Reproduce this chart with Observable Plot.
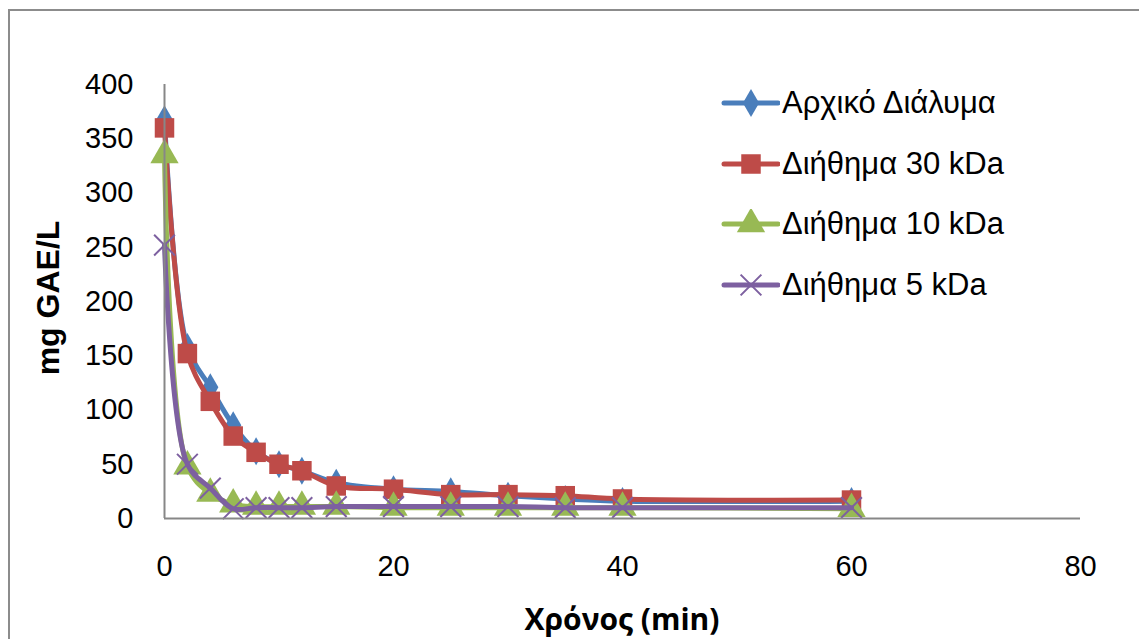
<!DOCTYPE html>
<html>
<head>
<meta charset="utf-8">
<script src="https://cdn.jsdelivr.net/npm/d3@7"></script>
<script src="https://cdn.jsdelivr.net/npm/@observablehq/plot@0.6"></script>
<style>
  html, body { margin: 0; padding: 0; background: #fff; width: 1139px; height: 639px; overflow: hidden; }
  #wrap { position: relative; width: 1139px; height: 639px; }
  #frame { position: absolute; left: 8px; top: 9px; width: 1200px; height: 700px; border: 2px solid #8c8c8c; box-sizing: border-box; }
  #chart { position: absolute; left: 0; top: 0; }
  .title { position: absolute; font-family: "Liberation Sans", Arial, sans-serif; font-weight: bold; color: #000; white-space: nowrap; line-height: 1; }
  #ytitle { left: 48px; top: 298px; font-size: 32px; transform: translate(-50%, -50%) rotate(-90deg); }
  #xtitle { left: 622px; top: 619px; font-size: 30px; font-family: "Open Sans", sans-serif; transform: translate(-50%, -50%); }
  #legend { position: absolute; left: 720px; top: 73px; font-family: "Liberation Sans", Arial, sans-serif; font-size: 31px; color: #000; }
  .item { display: flex; align-items: center; height: 60.5px; }
  .item svg { margin-right: 2px; }
</style>
</head>
<body>
<div id="wrap">
  <div id="frame"></div>
  <div id="chart"></div>
  <div id="ytitle" class="title">mg GAE/L</div>
  <div id="xtitle" class="title">Χρόνος (min)</div>
  <div id="legend"></div>
</div>
<script>
const times = [0, 2, 4, 6, 8, 10, 12, 15, 20, 25, 30, 35, 40, 60];
const seriesNames = ["Αρχικό Διάλυμα", "Διήθημα 30 kDa", "Διήθημα 10 kDa", "Διήθημα 5 kDa"];
const initialSolution = [368, 158, 121, 86, 62, 50, 44, 33, 27, 25, 21, 18, 16, 16];
const filtrate30 = [360, 152, 108, 76, 61, 50, 44, 30, 27, 22, 22, 21, 18, 17];
const filtrate10 = [335, 48, 23, 13, 11, 11, 11, 11, 10, 10, 10, 10, 10, 9];
const filtrate5 = [252, 50, 28, 9, 10, 10, 10, 11, 11, 11, 11, 10, 10, 10];
const xTicks = [0, 20, 40, 60, 80];
const yTicks = [0, 50, 100, 150, 200, 250, 300, 350, 400];

const colors = ["#4A7EBB", "#BE4B48", "#98B954", "#7D60A0"];
const symbols = ["diamond", "square", "triangle", "times"];
const radii = [8.5, 11, 10.5, 9.5];

const allValues = [initialSolution, filtrate30, filtrate10, filtrate5];
const data = [];
allValues.forEach((vals, s) => vals.forEach((v, i) => data.push({series: seriesNames[s], t: times[i], v})));

const marks = [];
seriesNames.forEach((name, s) => {
  const d = data.filter(r => r.series === name);
  marks.push(Plot.line(d, {x: "t", y: "v", stroke: colors[s], strokeWidth: 5, curve: "catmull-rom"}));
  if (symbols[s] === "times") {
    marks.push(Plot.dot(d, {x: "t", y: "v", symbol: "times", r: radii[s], stroke: colors[s], strokeWidth: 2}));
  } else {
    marks.push(Plot.dot(d, {x: "t", y: "v", symbol: symbols[s], r: radii[s], fill: colors[s], stroke: "none"}));
  }
});

const plot = Plot.plot({
  width: 1139,
  height: 639,
  marginLeft: 164,
  marginRight: 59,
  marginTop: 84,
  marginBottom: 121,
  style: {fontFamily: "'Liberation Sans', Arial, sans-serif", fontSize: "29px", color: "#000", background: "transparent"},
  x: {domain: [0, 80], ticks: xTicks, tickSize: 0, tickPadding: 37, label: null},
  y: {domain: [0, 400], ticks: yTicks, tickSize: 0, tickPadding: 31, label: null},
  marks: [
    ...marks,
    Plot.ruleY([0], {stroke: "#878787", strokeWidth: 2}),
    Plot.ruleX([0], {stroke: "#878787", strokeWidth: 2})
  ]
});
document.getElementById("chart").appendChild(plot);

// Legend
const legend = document.getElementById("legend");
seriesNames.forEach((name, s) => {
  const item = document.createElement("div");
  item.className = "item";
  const svg = d3.create("svg").attr("width", 60).attr("height", 30);
  svg.append("line").attr("x1", 4).attr("x2", 58).attr("y1", 15).attr("y2", 15)
    .attr("stroke", colors[s]).attr("stroke-width", 5).attr("stroke-linecap", "round");
  const sym = {diamond: d3.symbolDiamond, square: d3.symbolSquare, triangle: d3.symbolTriangle, times: d3.symbolTimes}[symbols[s]];
  const p = svg.append("path").attr("transform", "translate(31,15)")
    .attr("d", d3.symbol(sym, radii[s] * radii[s] * Math.PI)());
  if (symbols[s] === "times") p.attr("fill", "none").attr("stroke", colors[s]).attr("stroke-width", 2);
  else p.attr("fill", colors[s]);
  item.appendChild(svg.node());
  const span = document.createElement("span");
  span.textContent = name;
  item.appendChild(span);
  legend.appendChild(item);
});
</script>
</body>
</html>
